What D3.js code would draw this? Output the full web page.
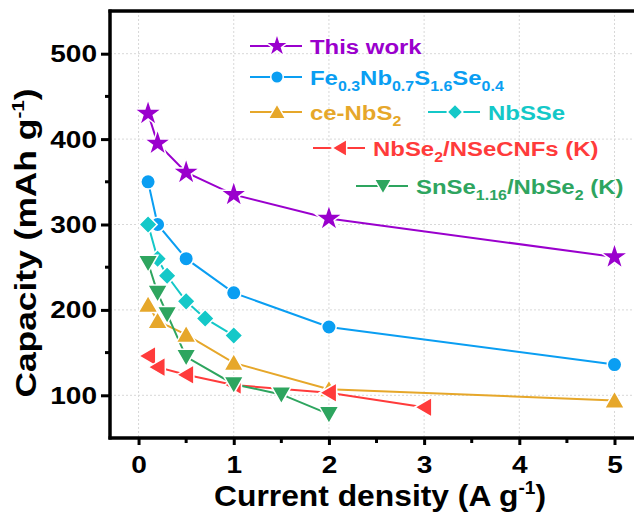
<!DOCTYPE html>
<html>
<head>
<meta charset="utf-8">
<script src="https://cdn.jsdelivr.net/npm/d3@7"></script>
<style>
  html, body { margin: 0; padding: 0; background: #fff; }
  svg { display: block; font-family: Arial, "Liberation Sans", sans-serif; font-weight: bold; }
</style>
</head>
<body>
<svg id="chart" width="634" height="520"></svg>
<script>
// Rate capability data (current density in A g^-1, capacity in mAh g^-1)
const thisWorkX = [0.1, 0.2, 0.5, 1, 2, 5];
const thisWorkY = [430, 395, 361, 335, 307, 262];

const feNbX = [0.1, 0.2, 0.5, 1, 2, 5];
const feNbY = [350, 300, 260, 220, 180, 136];

const ceNbS2X = [0.1, 0.2, 0.5, 1, 2, 5];
const ceNbS2Y = [206, 187, 171, 138, 107, 94];

const nbSSeX = [0.1, 0.2, 0.3, 0.5, 0.7, 1];
const nbSSeY = [300, 260, 240, 210, 190, 170];

const nbSe2CnfX = [0.1, 0.2, 0.5, 1, 2, 3];
const nbSe2CnfY = [146, 133, 124, 112, 103, 86];

const snSeX = [0.1, 0.2, 0.3, 0.5, 1, 1.5, 2];
const snSeY = [255, 220, 195, 145, 113, 101, 78];

const xTicks = [0, 1, 2, 3, 4, 5];
const yTicks = [100, 200, 300, 400, 500];

const series = [
  { name: "this",  x: thisWorkX, y: thisWorkY, color: "#9A00CD", symbol: d3.symbolStar,     size: 230, rot: 0 },
  { name: "fe",    x: feNbX,     y: feNbY,     color: "#0A9EF2", symbol: d3.symbolCircle,   size: 165, rot: 0 },
  { name: "ce",    x: ceNbS2X,   y: ceNbS2Y,   color: "#E6A72A", symbol: d3.symbolTriangle, size: 170, rot: 0 },
  { name: "nbsse", x: nbSSeX,    y: nbSSeY,    color: "#14C8C8", symbol: d3.symbolSquare,   size: 165, rot: 45 },
  { name: "cnf",   x: nbSe2CnfX, y: nbSe2CnfY, color: "#FF3B3B", symbol: d3.symbolTriangle, size: 170, rot: -90 },
  { name: "snse",  x: snSeX,     y: snSeY,     color: "#2EA55F", symbol: d3.symbolTriangle, size: 170, rot: 180 }
];

const svg = d3.select("#chart");
const plotLeft = 110, plotTop = 11, plotBottom = 438;
const x = d3.scaleLinear().domain([-0.3, 5]).range([plotLeft, 614.5]);
const y = d3.scaleLinear().domain([50, 550]).range([plotBottom, plotTop]);

// grid
const grid = svg.append("g");
xTicks.forEach(t => grid.append("line")
  .attr("x1", x(t)).attr("x2", x(t)).attr("y1", plotTop).attr("y2", plotBottom)
  .attr("stroke", "#d8d8d8").attr("stroke-width", 1).attr("stroke-dasharray", "2,2"));
yTicks.forEach(t => grid.append("line")
  .attr("x1", plotLeft).attr("x2", 634).attr("y1", y(t)).attr("y2", y(t))
  .attr("stroke", "#d8d8d8").attr("stroke-width", 1).attr("stroke-dasharray", "2,2"));

// axes
const xAxis = d3.axisBottom(x).tickValues(xTicks).tickSize(7).tickFormat(d3.format("d"));
const yAxis = d3.axisLeft(y).tickValues(yTicks).tickSize(9).tickFormat(d3.format("d"));

const gx = svg.append("g").attr("transform", `translate(0,${plotBottom})`).call(xAxis);
const gy = svg.append("g").attr("transform", `translate(${plotLeft},0)`).call(yAxis);
[gx, gy].forEach(g => {
  g.select(".domain").remove();
  g.selectAll(".tick line").attr("stroke", "#000").attr("stroke-width", 3);
  g.selectAll(".tick text").attr("fill", "#000").style("font-size", "23px").style("font-weight", "bold")
    .style("font-family", "Arial, 'Liberation Sans', sans-serif")
    .attr("transform", "scale(1.22,1)");
});
gx.selectAll(".tick text").attr("y", 35).attr("dy", 0);
gy.selectAll(".tick text").attr("x", -13 / 1.22).attr("dy", "0.35em");

// minor ticks
const xMinor = [0.5, 1.5, 2.5, 3.5, 4.5];
const yMinor = [150, 250, 350, 450];
xMinor.forEach(t => svg.append("line").attr("x1", x(t)).attr("x2", x(t))
  .attr("y1", plotBottom).attr("y2", plotBottom + 5).attr("stroke", "#000").attr("stroke-width", 3));
yMinor.forEach(t => svg.append("line").attr("x1", plotLeft - 5).attr("x2", plotLeft)
  .attr("y1", y(t)).attr("y2", y(t)).attr("stroke", "#000").attr("stroke-width", 3));

// frame lines
svg.append("line").attr("x1", plotLeft).attr("x2", plotLeft).attr("y1", plotTop - 1.5).attr("y2", plotBottom + 1.5)
  .attr("stroke", "#000").attr("stroke-width", 3.5);
svg.append("line").attr("x1", plotLeft - 1.5).attr("x2", 634).attr("y1", plotBottom).attr("y2", plotBottom)
  .attr("stroke", "#000").attr("stroke-width", 3.5);
svg.append("line").attr("x1", plotLeft - 1.5).attr("x2", 634).attr("y1", plotTop).attr("y2", plotTop)
  .attr("stroke", "#000").attr("stroke-width", 3.5);

// series lines and markers
const line = d3.line().x(d => x(d[0])).y(d => y(d[1]));
const markerPath = (s, k) => d3.symbol().type(s.symbol).size(s.size * k)();
const triOffset = (s, k) => (s.symbol === d3.symbolTriangle ? Math.sqrt(s.size * k / (3 * Math.sqrt(3))) * 0.35 : 0);

series.forEach(s => {
  const pts = s.x.map((v, i) => [v, s.y[i]]);
  svg.append("path").datum(pts).attr("d", line)
    .attr("fill", "none").attr("stroke", s.color).attr("stroke-width", 2);
});
series.forEach(s => {
  const pts = s.x.map((v, i) => [v, s.y[i]]);
  svg.append("g").selectAll("path").data(pts).join("path")
    .attr("d", markerPath(s, 1))
    .attr("transform", d => `translate(${x(d[0])},${y(d[1])}) rotate(${s.rot}) translate(0,${triOffset(s, 1)})`)
    .attr("fill", s.color).attr("stroke", "#fff").attr("stroke-width", 1.5);
});

// legend
function legendItem(lx, ly, s, pieces) {
  const g = svg.append("g");
  g.append("line").attr("x1", lx).attr("x2", lx + 52).attr("y1", ly).attr("y2", ly)
    .attr("stroke", s.color).attr("stroke-width", 2);
  g.append("path").attr("d", markerPath(s, 0.75))
    .attr("transform", `translate(${lx + 27},${ly}) rotate(${s.rot}) translate(0,${triOffset(s, 0.75)})`)
    .attr("fill", s.color).attr("stroke", "#fff").attr("stroke-width", 1.5);
  const t = g.append("text").attr("transform", `translate(${lx + 60},${ly + 7.5}) scale(1.14,1)`)
    .attr("fill", s.color).style("font-size", "21px");
  let inSub = false;
  pieces.forEach(([txt, sub]) => {
    const span = t.append("tspan").text(txt);
    if (sub && !inSub) span.attr("dy", 6);
    if (!sub && inSub) span.attr("dy", -6);
    if (sub) span.style("font-size", "14px");
    inSub = !!sub;
  });
}
const S = Object.fromEntries(series.map(s => [s.name, s]));
legendItem(250, 46, S.this, [["This work"]]);
legendItem(250, 77, S.fe, [["Fe"], ["0.3", 1], ["Nb"], ["0.7", 1], ["S"], ["1.6", 1], ["Se"], ["0.4", 1]]);
legendItem(250, 112, S.ce, [["ce-NbS"], ["2", 1]]);
legendItem(428, 112, S.nbsse, [["NbSSe"]]);
legendItem(313, 148, S.cnf, [["NbSe"], ["2", 1], ["/NSeCNFs (K)"]]);
legendItem(356, 186, S.snse, [["SnSe"], ["1.16", 1], ["/NbSe"], ["2", 1], [" (K)"]]);

// axis titles
const xt = svg.append("text").attr("transform", "translate(380,506) scale(1.06,1)").attr("text-anchor", "middle")
  .attr("fill", "#000").style("font-size", "30px");
xt.append("tspan").text("Current density (A g");
xt.append("tspan").text("-1").attr("dy", -12).style("font-size", "18px");
xt.append("tspan").text(")").attr("dy", 12);

const yt = svg.append("text").attr("transform", "translate(36,243) rotate(-90) scale(1.22,1)").attr("text-anchor", "middle")
  .attr("fill", "#000").style("font-size", "29px");
yt.append("tspan").text("Capacity (mAh g");
yt.append("tspan").text("-1").attr("dy", -12).style("font-size", "17px");
yt.append("tspan").text(")").attr("dy", 12);
</script>
</body>
</html>
